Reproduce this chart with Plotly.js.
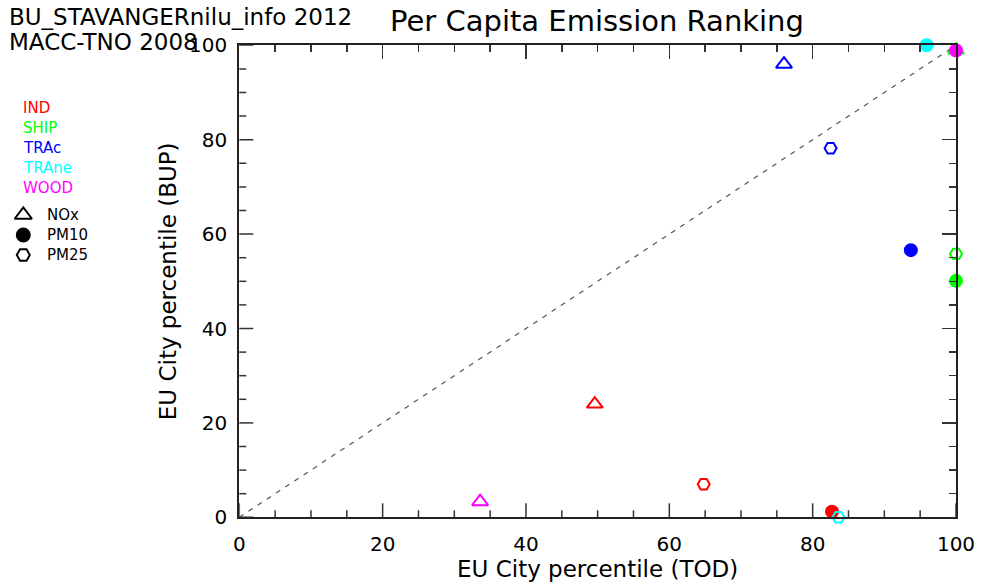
<!DOCTYPE html>
<html>
<head>
<meta charset="utf-8">
<script src="https://cdn.plot.ly/plotly-3.0.1.min.js"></script>
<style>html,body{margin:0;padding:0;background:#fff;}#chart{width:990px;height:584px;}</style>
</head>
<body>
<div id="chart"></div>
<script>
// ---- data ----
const sources = ['IND', 'SHIP', 'TRAc', 'TRAne', 'WOOD'];
const species = ['NOx', 'PM10', 'PM25'];
const pointSource  = ['IND', 'IND', 'IND', 'SHIP', 'SHIP', 'SHIP', 'TRAc', 'TRAc', 'TRAc', 'TRAne', 'TRAne', 'WOOD', 'WOOD'];
const pointSpecies = ['NOx', 'PM10', 'PM25', 'NOx', 'PM10', 'PM25', 'NOx', 'PM10', 'PM25', 'PM10', 'PM25', 'NOx', 'PM10'];
const todPercentile = [49.6, 82.7, 64.8, 100, 100, 100, 76.0, 93.7, 82.5, 95.9, 83.6, 33.6, 100];
const bupPercentile = [24.0, 1.2, 7.0, 99.0, 50.1, 55.8, 96.0, 56.6, 78.2, 100, 0.0, 3.3, 98.9];
const diagonalX = [0, 100];
const diagonalY = [0, 100];
const tickValues = [0, 20, 40, 60, 80, 100];
const minorStep = 5;
const headerLines = ['BU_STAVANGERnilu_info 2012', 'MACC-TNO 2008'];

// ---- styles ----
const sourceColors = {IND: '#ff0000', SHIP: '#00ff00', TRAc: '#0000ff', TRAne: '#00ffff', WOOD: '#ff00ff'};
const speciesSymbols = {NOx: 'triangle-up-open', PM10: 'circle', PM25: 'hexagon2-open'};
const speciesSizes = {NOx: 14, PM10: 12, PM25: 12};
const FONT = 'DejaVu Sans, sans-serif';
const TICKCOL = '#333';

const traces = [];
traces.push({
  x: diagonalX, y: diagonalY, mode: 'lines', hoverinfo: 'skip',
  line: {color: '#555', width: 1.2, dash: '5px,6px'}
});
// invisible trace carrying the top/right tick axes
traces.push({x: diagonalX, y: diagonalY, xaxis: 'x3', yaxis: 'y3', mode: 'lines',
  line: {width: 0, color: 'rgba(0,0,0,0)'}, hoverinfo: 'skip'});
sources.forEach(src => {
  const idx = pointSource.map((s, i) => s === src ? i : -1).filter(i => i >= 0);
  const col = sourceColors[src];
  traces.push({
    x: idx.map(i => todPercentile[i]),
    y: idx.map(i => bupPercentile[i]),
    mode: 'markers', name: src, cliponaxis: false,
    marker: {
      symbol: idx.map(i => speciesSymbols[pointSpecies[i]]),
      size: idx.map(i => speciesSizes[pointSpecies[i]]),
      color: col, opacity: 1,
      line: {color: col, width: 2}
    }
  });
});
// symbol key (on a small auxiliary axis pair in the left margin)
traces.push({
  x: species.map(() => 0),
  y: species.map((s, i) => species.length - 1 - i),
  xaxis: 'x2', yaxis: 'y2', mode: 'markers', cliponaxis: false, hoverinfo: 'skip',
  marker: {
    symbol: species.map(s => speciesSymbols[s]),
    size: species.map(s => speciesSizes[s] + 1),
    color: '#000', opacity: 1, line: {color: '#000', width: 2}
  }
});

const W = 990, H = 584;
const px = v => v / W, py = v => 1 - v / H;

const annotations = [];
headerLines.forEach((t, i) => annotations.push({
  text: t, xref: 'paper', yref: 'paper', x: px(7), y: py(17 + i * 25),
  xanchor: 'left', yanchor: 'middle', showarrow: false,
  font: {family: FONT, size: 23, color: '#000'}
}));
sources.forEach((s, i) => annotations.push({
  text: s, xref: 'paper', yref: 'paper', x: px(21), y: py(108 + i * 20),
  xanchor: 'left', yanchor: 'middle', showarrow: false,
  font: {family: FONT, size: 15, color: sourceColors[s]}
}));
species.forEach((s, i) => annotations.push({
  text: s, xref: 'paper', yref: 'paper', x: px(45), y: py(215 + i * 20),
  xanchor: 'left', yanchor: 'middle', showarrow: false,
  font: {family: FONT, size: 15, color: '#000'}
}));

const XDOM = [px(239.3), px(956)];
const YDOM = [py(517.3), py(45.3)];

// inward ticks on the bottom and left edges, placed at axis values
const shapes = [];
for (let v = 0; v <= 100; v += minorStep) {
  const len = tickValues.includes(v) ? 14 : 7;
  shapes.push({type: 'line', xref: 'x', x0: v, x1: v, yref: 'paper', ysizemode: 'pixel',
    yanchor: YDOM[0], y0: 0, y1: len, line: {color: TICKCOL, width: 1.5}, layer: 'above'});
  shapes.push({type: 'line', yref: 'y', y0: v, y1: v, xref: 'paper', xsizemode: 'pixel',
    xanchor: XDOM[0], x0: 0, x1: len, line: {color: TICKCOL, width: 1.5}, layer: 'above'});
}

const tickStyle = {
  range: [0, 100], tickvals: tickValues, ticktext: tickValues.map(String),
  ticks: 'inside', ticklen: 14, tickwidth: 1.5, tickcolor: TICKCOL,
  minor: {dtick: minorStep, ticks: 'inside', ticklen: 7, tickwidth: 1.5, tickcolor: TICKCOL},
  showline: true, linecolor: '#222', linewidth: 2,
  showgrid: false, zeroline: false, fixedrange: true,
  tickfont: {family: FONT, size: 20, color: '#000'}
};
const labelStyle = Object.assign({}, tickStyle, {ticks: '', minor: {ticks: ''}});

const layout = {
  width: W, height: H,
  margin: {l: 0, r: 0, t: 0, b: 0},
  paper_bgcolor: '#fff', plot_bgcolor: '#fff',
  showlegend: false,
  title: {text: 'Per Capita Emission Ranking', x: px(597), xanchor: 'center', y: py(21), yanchor: 'middle',
          font: {family: FONT, size: 29, color: '#000'}},
  xaxis: Object.assign({}, labelStyle, {
    domain: XDOM, anchor: 'y', ticklabelstandoff: 8,
    title: {text: 'EU City percentile (TOD)', standoff: 5, font: {family: FONT, size: 23, color: '#000'}}
  }),
  yaxis: Object.assign({}, labelStyle, {
    domain: YDOM, anchor: 'x', ticklabelstandoff: 6,
    title: {text: 'EU City percentile (BUP)', standoff: 6, font: {family: FONT, size: 23, color: '#000'}}
  }),
  xaxis3: Object.assign({}, tickStyle, {overlaying: 'x', side: 'top', anchor: 'y3', showticklabels: false}),
  yaxis3: Object.assign({}, tickStyle, {overlaying: 'y', side: 'right', anchor: 'x3', showticklabels: false}),
  xaxis2: {domain: [px(13.3), px(33.3)], range: [-1, 1], visible: false, fixedrange: true, anchor: 'y2'},
  yaxis2: {domain: [py(265), py(205)], range: [-0.5, 2.5], visible: false, fixedrange: true, anchor: 'x2'},
  annotations: annotations,
  shapes: shapes
};

Plotly.newPlot('chart', traces, layout, {staticPlot: true, displayModeBar: false});
</script>
</body>
</html>
